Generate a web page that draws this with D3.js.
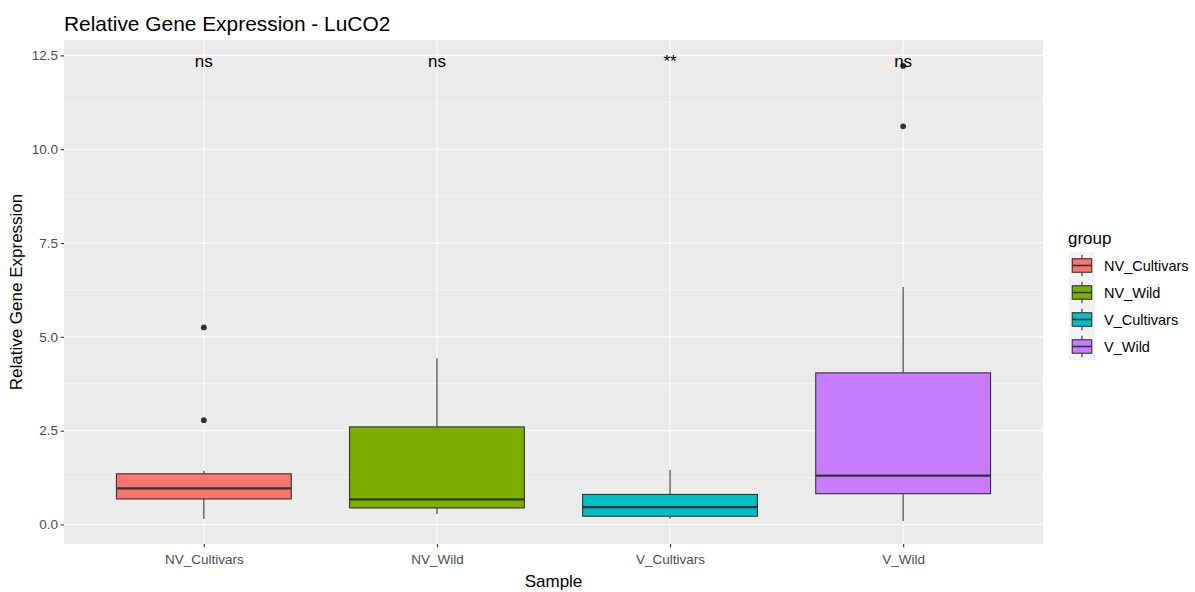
<!DOCTYPE html>
<html>
<head>
<meta charset="utf-8">
<script src="https://cdn.jsdelivr.net/npm/d3@7"></script>
<style>
  html, body { margin: 0; padding: 0; background: #ffffff; }
  svg { display: block; font-family: "Liberation Sans", Arial, sans-serif; }
</style>
</head>
<body>
<svg id="chart" width="1195" height="592"></svg>
<script>
// Box-plot summaries per sample group
const categories   = ["NV_Cultivars", "NV_Wild", "V_Cultivars", "V_Wild"];
const whiskerLow   = [0.15, 0.28, 0.15, 0.09];
const q1           = [0.68, 0.44, 0.22, 0.82];
const median       = [0.96, 0.67, 0.46, 1.30];
const q3           = [1.35, 2.60, 0.80, 4.04];
const whiskerHigh  = [1.43, 4.43, 1.45, 6.33];
const outliers     = [[5.25, 2.78], [], [], [12.22, 10.61]];
const sigLabels    = ["ns", "ns", "**", "ns"];
const sigLabelY    = 12.35;
const yTicks       = [0, 2.5, 5, 7.5, 10, 12.5];
const fillColors   = ["#F8766D", "#7CAE00", "#00BFC4", "#C77CFF"];

const svg = d3.select("#chart");
const panel = { left: 64, right: 1043, top: 40, bottom: 544 };

// ggplot-style continuous expansion: 5% of the data range on both sides
const dataMin = d3.min(whiskerLow), dataMax = 12.3;
const pad = (dataMax - dataMin) * 0.05;
const y = d3.scaleLinear()
  .domain([dataMin - pad, dataMax + pad])
  .range([panel.bottom, panel.top]);

const x = d3.scalePoint()
  .domain(categories)
  .range([panel.left, panel.right])
  .padding(0.6);
const boxW = x.step() * 0.75;

// panel background
svg.append("rect")
  .attr("x", panel.left).attr("y", panel.top)
  .attr("width", panel.right - panel.left)
  .attr("height", panel.bottom - panel.top)
  .attr("fill", "#EBEBEB");

// minor grid
const minor = d3.pairs(yTicks).map(([a, b]) => (a + b) / 2);
svg.append("g").selectAll("line").data(minor).join("line")
  .attr("x1", panel.left).attr("x2", panel.right)
  .attr("y1", d => y(d)).attr("y2", d => y(d))
  .attr("stroke", "#ffffff").attr("stroke-width", 0.55);

// major grid
svg.append("g").selectAll("line").data(yTicks).join("line")
  .attr("x1", panel.left).attr("x2", panel.right)
  .attr("y1", d => y(d)).attr("y2", d => y(d))
  .attr("stroke", "#ffffff").attr("stroke-width", 1.1);
svg.append("g").selectAll("line").data(categories).join("line")
  .attr("x1", d => x(d)).attr("x2", d => x(d))
  .attr("y1", panel.top).attr("y2", panel.bottom)
  .attr("stroke", "#ffffff").attr("stroke-width", 1.1);

// boxes
const boxes = svg.append("g").selectAll("g").data(categories).join("g");
boxes.append("line")
  .attr("x1", d => x(d)).attr("x2", d => x(d))
  .attr("y1", (d, i) => y(q3[i])).attr("y2", (d, i) => y(whiskerHigh[i]))
  .attr("stroke", "#333333").attr("stroke-width", 1.1);
boxes.append("line")
  .attr("x1", d => x(d)).attr("x2", d => x(d))
  .attr("y1", (d, i) => y(q1[i])).attr("y2", (d, i) => y(whiskerLow[i]))
  .attr("stroke", "#333333").attr("stroke-width", 1.1);
boxes.append("rect")
  .attr("x", d => x(d) - boxW / 2).attr("width", boxW)
  .attr("y", (d, i) => y(q3[i]))
  .attr("height", (d, i) => y(q1[i]) - y(q3[i]))
  .attr("fill", (d, i) => fillColors[i])
  .attr("stroke", "#333333").attr("stroke-width", 1.1);
boxes.append("line")
  .attr("x1", d => x(d) - boxW / 2).attr("x2", d => x(d) + boxW / 2)
  .attr("y1", (d, i) => y(median[i])).attr("y2", (d, i) => y(median[i]))
  .attr("stroke", "#333333").attr("stroke-width", 2.2);

// outliers
const outPts = categories.flatMap((c, i) => outliers[i].map(v => ({ c, v })));
svg.append("g").selectAll("circle").data(outPts).join("circle")
  .attr("cx", d => x(d.c)).attr("cy", d => y(d.v)).attr("r", 2.9)
  .attr("fill", "#333333");

// significance labels
svg.append("g").selectAll("text").data(categories).join("text")
  .attr("x", d => x(d)).attr("y", y(sigLabelY)).attr("dy", "0.35em")
  .attr("text-anchor", "middle")
  .attr("font-size", 17).attr("fill", "#000000")
  .text((d, i) => sigLabels[i]);

// y axis
const yAxis = svg.append("g")
  .attr("transform", `translate(${panel.left},0)`)
  .call(d3.axisLeft(y).tickValues(yTicks).tickFormat(d3.format(".1f")).tickSize(3.3).tickPadding(2.6));
yAxis.select(".domain").remove();
yAxis.selectAll("line").attr("stroke", "#333333").attr("stroke-width", 1.1);
yAxis.selectAll("text").attr("fill", "#4D4D4D").attr("font-size", 13.5)
  .attr("font-family", "Liberation Sans, Arial, sans-serif");

// x axis
const xAxis = svg.append("g")
  .attr("transform", `translate(0,${panel.bottom})`)
  .call(d3.axisBottom(x).tickSize(3.3).tickPadding(7.5));
xAxis.select(".domain").remove();
xAxis.selectAll("line").attr("stroke", "#333333").attr("stroke-width", 1.1);
xAxis.selectAll("text").attr("fill", "#4D4D4D").attr("font-size", 13.5)
  .attr("font-family", "Liberation Sans, Arial, sans-serif");

// titles
svg.append("text")
  .attr("x", panel.left).attr("y", 31)
  .attr("font-size", 20.9).attr("fill", "#000000")
  .text("Relative Gene Expression - LuCO2");
svg.append("text")
  .attr("x", (panel.left + panel.right) / 2).attr("y", 587)
  .attr("text-anchor", "middle").attr("font-size", 17).attr("fill", "#000000")
  .text("Sample");
svg.append("text")
  .attr("transform", `translate(22,${(panel.top + panel.bottom) / 2}) rotate(-90)`)
  .attr("text-anchor", "middle").attr("font-size", 17).attr("fill", "#000000")
  .text("Relative Gene Expression");

// legend
const legend = svg.append("g").attr("transform", "translate(1069,0)");
legend.append("text")
  .attr("x", -1).attr("y", 244)
  .attr("font-size", 17).attr("fill", "#000000")
  .text("group");
const keyW = 26, keyH = 27, keyTop = 252;
const keys = legend.selectAll("g.key").data(categories).join("g")
  .attr("class", "key")
  .attr("transform", (d, i) => `translate(0,${keyTop + i * keyH})`);
keys.append("rect")
  .attr("width", keyW).attr("height", keyH).attr("fill", "#F2F2F2");
keys.append("line")
  .attr("x1", keyW / 2).attr("x2", keyW / 2)
  .attr("y1", keyH * 0.1).attr("y2", keyH * 0.9)
  .attr("stroke", "#333333").attr("stroke-width", 1.1);
keys.append("rect")
  .attr("x", keyW * 0.125).attr("width", keyW * 0.75)
  .attr("y", keyH * 0.25).attr("height", keyH * 0.5)
  .attr("fill", (d, i) => fillColors[i])
  .attr("stroke", "#333333").attr("stroke-width", 1.1);
keys.append("line")
  .attr("x1", keyW * 0.125).attr("x2", keyW * 0.875)
  .attr("y1", keyH / 2).attr("y2", keyH / 2)
  .attr("stroke", "#333333").attr("stroke-width", 1.6);
keys.append("text")
  .attr("x", 35).attr("y", keyH / 2 + 5)
  .attr("font-size", 14.5).attr("fill", "#000000")
  .text(d => d);
</script>
</body>
</html>
